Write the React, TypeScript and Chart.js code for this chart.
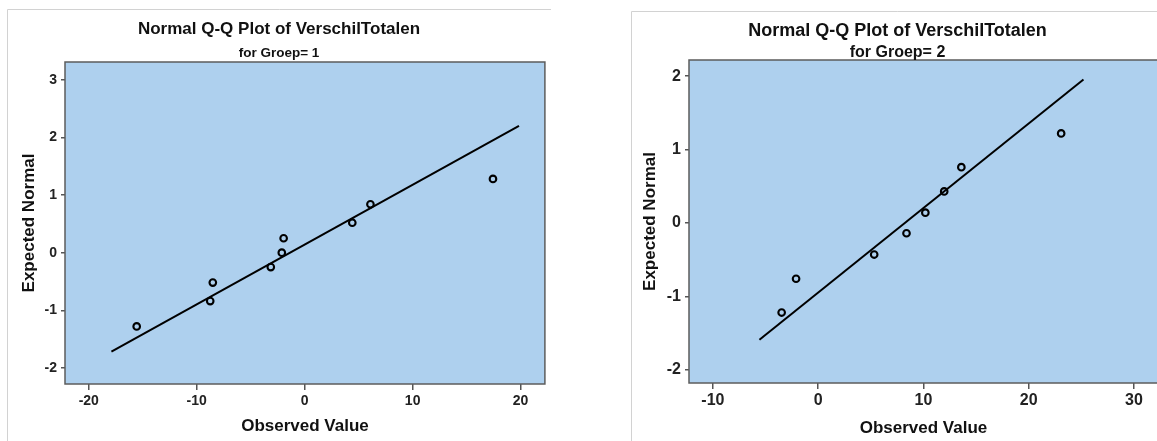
import React, { useEffect, useRef } from "react";
import { Chart, registerables } from "chart.js";

Chart.register(...registerables);

const FONT = '"Liberation Sans", Arial, Helvetica, sans-serif';

// ---- Groep 1 ----
const G1_OBSERVED = [-15.56, -8.75, -8.51, -3.14, -2.12, -1.95, 4.41, 6.09, 17.44];
const G1_EXPECTED = [-1.28, -0.84, -0.52, -0.25, 0, 0.25, 0.52, 0.84, 1.28];
const G1_LINE_X = [-17.9, 19.85];
const G1_LINE_Y = [-1.72, 2.2];
const G1_X_TICKS = [-20, -10, 0, 10, 20];
const G1_Y_TICKS = [-2, -1, 0, 1, 2, 3];
const G1_X_RANGE = [-22.2, 22.25];
const G1_Y_RANGE = [-2.28, 3.31];

// ---- Groep 2 ----
const G2_OBSERVED = [-3.47, -2.1, 5.32, 8.39, 10.18, 11.97, 13.6, 23.08];
const G2_EXPECTED = [-1.22, -0.76, -0.43, -0.14, 0.14, 0.43, 0.76, 1.22];
const G2_LINE_X = [-5.58, 25.2];
const G2_LINE_Y = [-1.59, 1.955];
const G2_X_TICKS = [-10, 0, 10, 20, 30];
const G2_Y_TICKS = [-2, -1, 0, 1, 2];
const G2_X_RANGE = [-12.27, 32.27];
const G2_Y_RANGE = [-2.18, 2.22];

const TITLE = "Normal Q-Q Plot of VerschilTotalen";
const X_TITLE = "Observed Value";
const Y_TITLE = "Expected Normal";

const PLOT_BG = "#AED0EE";

const panelPlugin = {
  id: "panelDeco",
  beforeDraw(chart: any, _a: any, opts: any) {
    const { ctx, chartArea: a } = chart;
    ctx.save();
    ctx.fillStyle = "#ffffff";
    ctx.fillRect(0, 0, chart.width, chart.height);
    // panel frame (top + left)
    ctx.strokeStyle = "#d2d2d2";
    ctx.lineWidth = 1;
    ctx.beginPath();
    ctx.moveTo(0.5, chart.height);
    ctx.lineTo(0.5, 0.5);
    ctx.lineTo(chart.width, 0.5);
    ctx.stroke();
    ctx.fillStyle = PLOT_BG;
    ctx.fillRect(a.left, a.top, a.right - a.left, a.bottom - a.top);
    ctx.restore();
  },
  afterDraw(chart: any, _a: any, opts: any) {
    const { ctx, chartArea: a } = chart;
    ctx.save();
    ctx.strokeStyle = "#5c5c5c";
    ctx.lineWidth = 1.5;
    ctx.strokeRect(a.left, a.top, a.right - a.left, a.bottom - a.top);

    ctx.fillStyle = "#111111";
    ctx.textAlign = "center";
    ctx.textBaseline = "middle";
    ctx.font = `bold ${opts.titleSize}px ${FONT}`;
    ctx.fillText(opts.title, chart.width / 2, opts.titleY);
    ctx.font = `bold ${opts.subSize}px ${FONT}`;
    ctx.fillText(opts.subtitle, chart.width / 2, opts.subY);
    ctx.font = `bold ${opts.axisSize}px ${FONT}`;
    ctx.fillText(opts.xTitle, (a.left + a.right) / 2, a.bottom + opts.xTitleOffset);
    ctx.translate(opts.yTitleX, (a.top + a.bottom) / 2);
    ctx.rotate(-Math.PI / 2);
    ctx.fillText(opts.yTitle, 0, 0);
    ctx.restore();
  },
};

type PanelProps = {
  observed: number[];
  expected: number[];
  lineX: number[];
  lineY: number[];
  xTicks: number[];
  yTicks: number[];
  xRange: number[];
  yRange: number[];
  subtitle: string;
  left: number;
  top: number;
  width: number;
  height: number;
  padTop: number;
  padRight: number;
  yWidth: number;
  xHeight: number;
  tickSize: number;
  xTickPad: number;
  titleSize: number;
  titleY: number;
  subSize: number;
  subY: number;
  xTitleOffset: number;
  yTitleX: number;
};

function QQPanel(p: PanelProps) {
  const ref = useRef<HTMLCanvasElement | null>(null);
  useEffect(() => {
    if (!ref.current) return;
    const points = p.observed.map((x, i) => ({ x, y: p.expected[i] }));
    const line = p.lineX.map((x, i) => ({ x, y: p.lineY[i] }));
    const tickFont = { family: FONT, size: p.tickSize, weight: "bold" as const };
    const chart = new Chart(ref.current, {
      type: "scatter",
      data: {
        datasets: [
          {
            data: line,
            showLine: true,
            borderColor: "#000000",
            borderWidth: 2,
            pointRadius: 0,
            fill: false,
          },
          {
            data: points,
            pointStyle: "circle",
            pointRadius: 3.3,
            borderWidth: 2.1,
            borderColor: "#000000",
            backgroundColor: "rgba(0,0,0,0)",
          },
        ],
      },
      options: {
        responsive: false,
        animation: false,
        events: [],
        layout: { padding: { left: 0, top: p.padTop, right: p.padRight, bottom: 0 } },
        plugins: {
          legend: { display: false },
          tooltip: { enabled: false },
          panelDeco: {
            title: TITLE,
            subtitle: p.subtitle,
            xTitle: X_TITLE,
            yTitle: Y_TITLE,
            titleSize: p.titleSize,
            titleY: p.titleY,
            subSize: p.subSize,
            subY: p.subY,
            axisSize: 17,
            xTitleOffset: p.xTitleOffset,
            yTitleX: p.yTitleX,
          },
        } as any,
        scales: {
          x: {
            type: "linear",
            position: "bottom",
            min: p.xRange[0],
            max: p.xRange[1],
            afterBuildTicks: (s: any) => {
              s.ticks = p.xTicks.map((v) => ({ value: v }));
            },
            afterFit: (s: any) => {
              s.height = p.xHeight;
            },
            grid: {
              drawOnChartArea: false,
              drawTicks: true,
              tickLength: 6,
              color: "#555555",
              lineWidth: 1.5,
            },
            border: { display: false },
            ticks: {
              font: tickFont,
              color: "#222222",
              padding: p.xTickPad,
              maxRotation: 0,
              autoSkip: false,
            },
          },
          y: {
            type: "linear",
            position: "left",
            min: p.yRange[0],
            max: p.yRange[1],
            afterBuildTicks: (s: any) => {
              s.ticks = p.yTicks.map((v) => ({ value: v }));
            },
            afterFit: (s: any) => {
              s.width = p.yWidth;
            },
            grid: {
              drawOnChartArea: false,
              drawTicks: true,
              tickLength: 4,
              color: "#555555",
              lineWidth: 1.5,
            },
            border: { display: false },
            ticks: {
              font: tickFont,
              color: "#222222",
              padding: 4,
              autoSkip: false,
            },
          },
        },
      },
      plugins: [panelPlugin],
    });
    return () => chart.destroy();
  }, []);
  return (
    <canvas
      ref={ref}
      width={p.width}
      height={p.height}
      style={{
        position: "absolute",
        left: p.left,
        top: p.top,
        width: p.width,
        height: p.height,
      }}
    />
  );
}

export default function App() {
  return (
    <div
      style={{
        position: "fixed",
        left: 0,
        top: 0,
        width: 1157,
        height: 441,
        overflow: "hidden",
        background: "#ffffff",
      }}
    >
      <QQPanel
        observed={G1_OBSERVED}
        expected={G1_EXPECTED}
        lineX={G1_LINE_X}
        lineY={G1_LINE_Y}
        xTicks={G1_X_TICKS}
        yTicks={G1_Y_TICKS}
        xRange={G1_X_RANGE}
        yRange={G1_Y_RANGE}
        subtitle="for Groep= 1"
        left={7}
        top={9}
        width={544}
        height={432}
        padTop={53}
        padRight={5}
        yWidth={58}
        xHeight={57}
        tickSize={14}
        xTickPad={3}
        titleSize={17}
        titleY={20}
        subSize={13.5}
        subY={44}
        xTitleOffset={42.7}
        yTitleX={22}
      />
      <QQPanel
        observed={G2_OBSERVED}
        expected={G2_EXPECTED}
        lineX={G2_LINE_X}
        lineY={G2_LINE_Y}
        xTicks={G2_X_TICKS}
        yTicks={G2_Y_TICKS}
        xRange={G2_X_RANGE}
        yRange={G2_Y_RANGE}
        subtitle="for Groep= 2"
        left={631}
        top={11}
        width={533}
        height={430}
        padTop={49}
        padRight={4}
        yWidth={58}
        xHeight={58}
        tickSize={16}
        xTickPad={2}
        titleSize={18}
        titleY={20}
        subSize={16}
        subY={42}
        xTitleOffset={45.3}
        yTitleX={19}
      />
    </div>
  );
}
